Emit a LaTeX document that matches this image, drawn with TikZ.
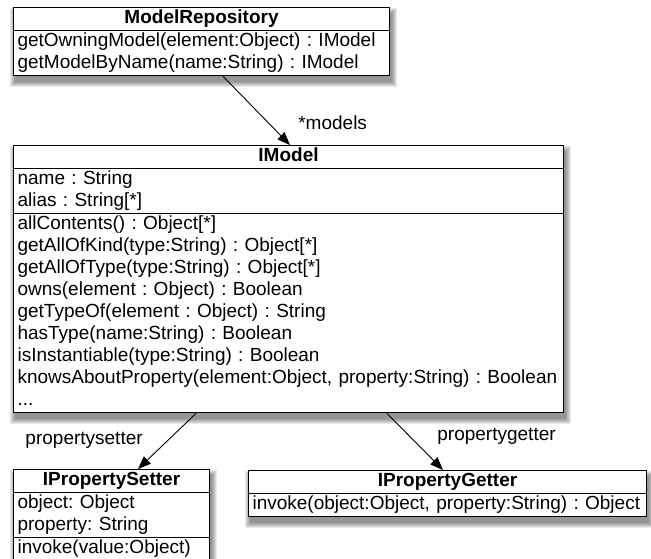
\documentclass[tikz,border=0pt]{standalone}
\usepackage{fontspec}
\setmainfont{Liberation Sans}
\usetikzlibrary{shapes.multipart, backgrounds, arrows.meta, positioning}
\newcommand{\umlsize}{\fontsize{19pt}{22pt}\selectfont\frenchspacing}
\newcommand{\ctitle}[1]{\leavevmode\hbox to\hsize{\hfil\textbf{#1}\strut\hfil}}

\begin{document}
\begin{tikzpicture}[x=1pt, y=-1pt,
    umlclass/.style 2 args={rectangle split, rectangle split parts=#2,
        draw, line width=1.1pt, fill=white, text width=#1, align=left,
        inner xsep=4pt, inner ysep=0pt, anchor=north west, font=\umlsize},
    softshadow/.style={fill=black, opacity=.085},
    assoc/.style={-{Triangle[length=13pt,width=10pt]}, line width=.9pt},
    rolename/.style={font=\umlsize, inner sep=0pt},
]
\useasboundingbox (0,0) rectangle (651,558);

\node[umlclass={368pt}{2}] (repo) at (13,7) {\ctitle{ModelRepository}
    \nodepart{second}getOwningModel(element:Object) : IModel\strut\\
    getModelByName(name:String) : IModel\strut};

\node[umlclass={542pt}{3}] (imodel) at (13,145) {\ctitle{IModel}
    \nodepart{second}name : String\strut\\
    alias : String[*]\strut
    \nodepart{third}allContents() : Object[*]\strut\\
    getAllOfKind(type:String) : Object[*]\strut\\
    getAllOfType(type:String) : Object[*]\strut\\
    owns(element : Object) : Boolean\strut\\
    getTypeOf(element : Object) : String\strut\\
    hasType(name:String) : Boolean\strut\\
    isInstantiable(type:String) : Boolean\strut\\
    knowsAboutProperty(element:Object, property:String) : Boolean\strut\\
    ...\strut};

\node[umlclass={188pt}{3}] (setter) at (13,469) {\ctitle{IPropertySetter}
    \nodepart{second}object: Object\strut\\
    property: String\strut
    \nodepart{third}invoke(value:Object)\strut};

\node[umlclass={390pt}{2}] (getter) at (248,470) {\ctitle{IPropertyGetter}
    \nodepart{second}invoke(object:Object, property:String) : Object\strut};

% soft shadows behind the classes
\begin{scope}[on background layer]
\foreach \n in {repo, imodel, setter, getter}
    \foreach \b in {0,...,5}
        \fill[softshadow] ([xshift={(2-\b)*1pt}, yshift={(-6+\b)*1pt}]\n.north west)
            rectangle ([xshift={(2+\b)*1pt}, yshift={(-6-\b)*1pt}]\n.south east);
\end{scope}

\draw[assoc] ([xshift=210pt]repo.south west) -- node[rolename, pos=.67, right=30pt] (lmodels) {*models} ([xshift=277pt]imodel.north west);
\draw[assoc] ([xshift=183pt]imodel.south west) -- node[rolename, pos=.48, left=25pt] (lsetter) {propertysetter} ([xshift=125pt]setter.north west);
\draw[assoc] ([xshift=374pt]imodel.south west) -- node[rolename, pos=.41, right=27pt] (lgetter) {propertygetter} ([xshift=195pt]getter.north west);
\end{tikzpicture}
\end{document}
